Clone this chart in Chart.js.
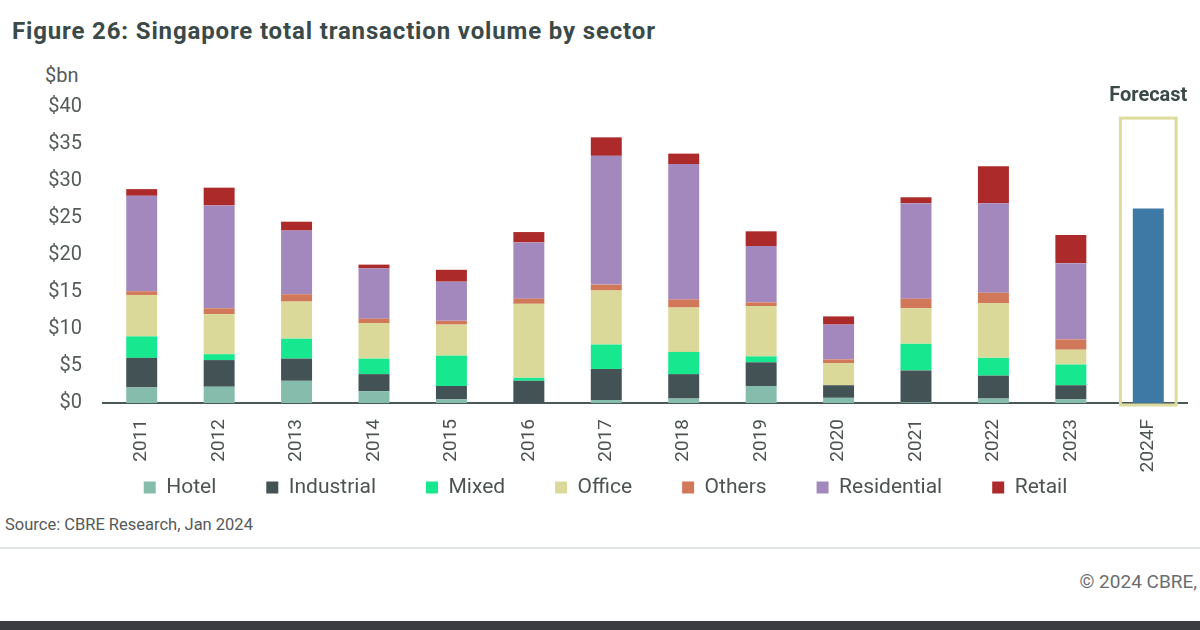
<!DOCTYPE html>
<html>
<head>
<meta charset="utf-8">
<script src="https://cdn.jsdelivr.net/npm/chart.js@4.4.1/dist/chart.umd.min.js"></script>
<style>
  html, body { margin: 0; padding: 0; background: #ffffff; }
  body { width: 1200px; height: 630px; position: relative; overflow: hidden; font-family: Roboto, "Noto Sans", sans-serif; }
  #title { position: absolute; left: 12px; top: 17px; font-size: 24px; font-weight: 700; color: #3b4949; letter-spacing: 0.85px; white-space: nowrap; }
  #unit { position: absolute; left: 45px; top: 63px; font-size: 20px; color: #555a5a; }
  #wrap { position: absolute; left: 0; top: 0; width: 1200px; height: 508px; }
  #source { position: absolute; left: 5px; top: 515px; font-size: 16.5px; color: #555a5a; }
  #rule { position: absolute; left: 0; top: 547px; width: 1200px; height: 2px; background: #e1e4e4; }
  #copy { position: absolute; right: 3px; top: 570px; font-size: 19px; color: #6a6e70; }
  #band { position: absolute; left: 0; top: 621px; width: 1200px; height: 9px; background: #3a3c3f; }
</style>
</head>
<body>
<div id="title">Figure 26: Singapore total transaction volume by sector</div>
<div id="unit">$bn</div>
<div id="wrap"><canvas id="c"></canvas></div>
<div id="source">Source: CBRE Research, Jan 2024</div>
<div id="rule"></div>
<div id="copy">© 2024 CBRE,</div>
<div id="band"></div>
<script>
const categories = ['2011','2012','2013','2014','2015','2016','2017','2018','2019','2020','2021','2022','2023','2024F'];
const hotel       = [2.1, 2.2, 3.0, 1.6, 0.5, 0.0, 0.4, 0.6, 2.3, 0.7, 0.1, 0.6, 0.5, null];
const industrial  = [4.0, 3.6, 3.0, 2.3, 1.8, 3.0, 4.2, 3.3, 3.2, 1.7, 4.3, 3.1, 1.9, null];
const mixed       = [2.9, 0.8, 2.7, 2.1, 4.1, 0.4, 3.3, 3.0, 0.8, 0.0, 3.6, 2.4, 2.8, null];
const office      = [5.6, 5.4, 5.0, 4.8, 4.2, 10.0, 7.3, 6.0, 6.8, 3.0, 4.8, 7.4, 2.0, null];
const others      = [0.5, 0.8, 1.0, 0.6, 0.5, 0.7, 0.8, 1.1, 0.5, 0.5, 1.3, 1.4, 1.4, null];
const residential = [12.9, 13.9, 8.6, 6.8, 5.3, 7.6, 17.4, 18.3, 7.6, 4.7, 12.9, 12.1, 10.3, null];
const retail      = [0.9, 2.4, 1.2, 0.5, 1.6, 1.4, 2.5, 1.4, 2.0, 1.1, 0.8, 5.0, 3.8, null];
const forecast    = [null, null, null, null, null, null, null, null, null, null, null, null, null, 26.3];
const yTicks = [0, 5, 10, 15, 20, 25, 30, 35, 40];
const forecastLabel = 'Forecast';
const forecastBoxTop = 38.5;

const series = [
  ['Hotel', hotel, '#85bcab'],
  ['Industrial', industrial, '#435254'],
  ['Mixed', mixed, '#17e88f'],
  ['Office', office, '#dbd99a'],
  ['Others', others, '#d2785a'],
  ['Residential', residential, '#a388bd'],
  ['Retail', retail, '#ad2a2a'],
];

const datasets = series.map(([label, data, color]) => ({
  label, data, backgroundColor: color, borderWidth: 0,
  categoryPercentage: 1, barPercentage: 0.4
}));
datasets.push({
  label: forecastLabel, data: forecast, backgroundColor: '#3e79a6', borderWidth: 0,
  categoryPercentage: 1, barPercentage: 0.4
});

const noLabelClip = {
  id: 'noLabelClip',
  beforeDraw(chart) {
    chart.scales.x._computeLabelArea = () => undefined;
  }
};

const forecastBox = {
  id: 'forecastBox',
  afterDatasetsDraw(chart) {
    const xs = chart.scales.x, ys = chart.scales.y;
    const idx = categories.length - 1;
    const cx = xs.getPixelForValue(idx);
    const cw = xs.getPixelForValue(1) - xs.getPixelForValue(0);
    const half = cw * 0.36;
    const top = ys.getPixelForValue(forecastBoxTop);
    const bottom = ys.getPixelForValue(0) + 2;
    const ctx = chart.ctx;
    ctx.save();
    ctx.strokeStyle = '#dcdc9e';
    ctx.lineWidth = 3;
    ctx.strokeRect(cx - half, top, half * 2, bottom - top);
    ctx.fillStyle = '#3b4949';
    ctx.font = 'bold 20px Roboto, sans-serif';
    ctx.textAlign = 'center';
    ctx.textBaseline = 'middle';
    ctx.fillText(forecastLabel, cx, top - 22);
    ctx.restore();
  }
};

new Chart(document.getElementById('c'), {
  type: 'bar',
  data: { labels: categories, datasets },
  plugins: [noLabelClip, forecastBox],
  options: {
    responsive: true,
    maintainAspectRatio: false,
    animation: false,
    layout: { padding: { top: 107, right: 13, left: 24, bottom: 0 } },
    plugins: {
      tooltip: { enabled: false },
      legend: {
        position: 'bottom',
        labels: {
          filter: (item) => item.text !== forecastLabel,
          boxWidth: 12, boxHeight: 12, padding: 50,
          color: '#4d5353',
          font: { family: 'Roboto', size: 21 }
        }
      }
    },
    scales: {
      x: {
        stacked: true,
        grid: { display: false },
        border: { display: true, color: '#4a5858', width: 2 },
        ticks: { minRotation: 90, maxRotation: 90, padding: 8, color: '#4d5353', font: { family: 'Roboto', size: 19 } },
        afterFit: (s) => { s.height = 24; }
      },
      y: {
        stacked: true,
        min: 0, max: 40,
        afterBuildTicks: (s) => { s.ticks = yTicks.map(v => ({ value: v })); },
        grid: { display: false },
        border: { display: false },
        ticks: { padding: 13, color: '#555a5a', font: { family: 'Roboto', size: 20 }, callback: (v) => '$' + v },
        afterFit: (s) => { s.width = 79; }
      }
    }
  }
});
</script>
</body>
</html>
